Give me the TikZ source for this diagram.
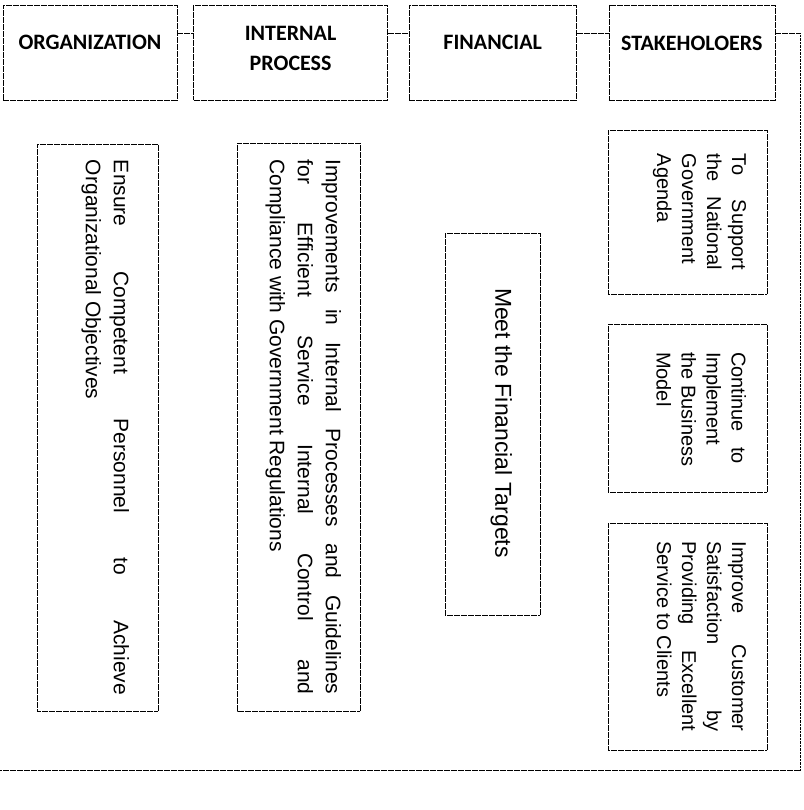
\documentclass[tikz,border=0pt]{standalone}
\usepackage{fontspec}
\setmainfont{Liberation Sans}
\newfontfamily\headfont{Carlito}
\usetikzlibrary{positioning,calc}
\newcommand{\headbox}[3]{\parbox[c][95pt][t]{#1}{\centering\vspace*{#2}#3}}
\newcommand{\goalbox}[4]{\parbox[c][#1][t]{#2}{\vspace*{#3}#4}}
\newcommand{\justline}[1]{\makebox[\linewidth][s]{#1}}
\newcommand{\ragline}[1]{\makebox[\linewidth][l]{#1}}

\begin{document}
\begin{tikzpicture}[x=1pt,y=-1pt,
    scan/.style={line width=.6pt, dash pattern=on 6pt off 1pt},
    head/.style={draw, scan, inner sep=0pt, font=\headfont\bfseries\fontsize{22}{30}\selectfont},
    goal/.style={draw, scan, rotate=-90, inner sep=0pt, font=\fontsize{21}{28}\selectfont},
    small goal/.style={goal, font=\fontsize{20}{25}\selectfont}]
  \useasboundingbox (0,0) rectangle (803,810);
  % perspectives
  \node[head] (org) at (90,52.5) {\headbox{174pt}{30pt}{ORGANIZATION}};
  \node[head, right=16pt of org] (int) {\headbox{194pt}{21pt}{INTERNAL\\PROCESS}};
  \node[head, right=21pt of int] (fin) {\headbox{167pt}{30pt}{FINANCIAL}};
  \node[head, right=32pt of fin] (stk) {\headbox{166pt}{31pt}{STAKEHOLOERS}};
  % objectives
  \node[goal, minimum width=567pt] (orggoal) at (97.5,427.5)
    {\goalbox{121pt}{535pt}{29pt}{\justline{Ensure Competent Personnel to Achieve}\\
     \ragline{Organizational Objectives}}};
  \node[goal, minimum width=568pt] (intgoal) at (298.5,427)
    {\goalbox{123pt}{535pt}{19pt}{\justline{Improvements in Internal Processes and Guidelines}\\
     \justline{for Efficient Service Internal Control and}\\
     \ragline{Compliance with Government Regulations}}};
  \node[goal, font=\fontsize{23}{28}\selectfont, minimum width=382pt] (fingoal) at (492.5,424)
    {\goalbox{95pt}{272pt}{28pt}{\ragline{Meet the Financial Targets}}};
  \node[small goal, minimum width=164pt] (stkgoala) at (687.5,212)
    {\goalbox{159pt}{116pt}{21pt}{\justline{To Support}\\\justline{the National}\\
     \ragline{Government}\\\ragline{Agenda}}};
  \node[small goal, minimum width=168pt] (stkgoalb) at (687.5,408)
    {\goalbox{159pt}{112pt}{21pt}{\justline{Continue to}\\\ragline{Implement}\\
     \ragline{the Business}\\\ragline{Model}}};
  \node[small goal, minimum width=227pt] (stkgoalc) at (687.5,636.5)
    {\goalbox{159pt}{190pt}{21pt}{\justline{Improve Customer}\\\justline{Satisfaction by}\\
     \justline{Providing Excellent}\\\ragline{Service to Clients}}};
  % links
  \coordinate (looptop) at (800,33.5);
  \coordinate (loopturn) at (800,770);
  \coordinate (loopend) at (0,770);
  \draw[scan] ([yshift=19pt]org.east) -- ([yshift=19pt]int.west);
  \draw[scan] ([yshift=19pt]int.east) -- ([yshift=19pt]fin.west);
  \draw[scan] ([yshift=19pt]fin.east) -- ([yshift=19pt]stk.west);
  \draw[scan] ([yshift=19pt]stk.east) -- (looptop);
  \draw[densely dotted] (looptop) -- (loopturn);
  \draw[scan] (loopturn) -- (loopend);
\end{tikzpicture}
\end{document}
